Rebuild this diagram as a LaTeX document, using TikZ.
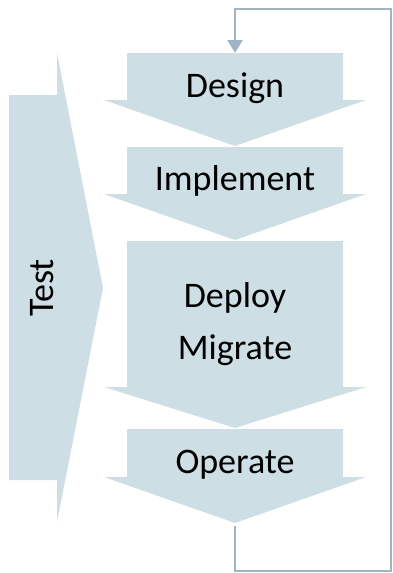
\documentclass[tikz,border=0pt]{standalone}
\usepackage{fontspec}
\setmainfont{Carlito}
\usepackage{tikz}
\usetikzlibrary{calc,arrows.meta}

\definecolor{stagefill}{RGB}{205,222,229}
\definecolor{loopline}{RGB}{160,180,196}

\tikzset{
  stagetext/.style={inner sep=0pt, font=\fontsize{36}{43}\selectfont, text=black},
  loopback/.style={draw=loopline, line width=2.6pt, -{Triangle[width=15pt,length=13pt]}}
}

\begin{document}
\begin{tikzpicture}[x=1pt,y=-1pt]
  \useasboundingbox (0,0) rectangle (393,573);

  %% Building the stage arrows (top / start of head / tip)
  \foreach \name/\ya/\yb/\yc in {design/53/100/146,implement/147/194/240,deploy/241/387/428,operate/429/477/523}
  {
    \fill[stagefill] (127,\ya) -- (343,\ya) -- (343,\yb) -- (366,\yb)
      -- (235,\yc) -- (104,\yb) -- (127,\yb) -- cycle;
    \coordinate (top-\name) at (235,\ya);
    \coordinate (tip-\name) at (235,\yc);
  }

  %% Test arrow pointing right
  \fill[stagefill] (9,95) -- (57,95) -- (57,53) -- (103,288) -- (57,522)
    -- (57,480) -- (9,480) -- cycle;

  %% Labels
  \node[stagetext, anchor=base] (design)    at (235,97)  {Design};
  \node[stagetext, anchor=base] (implement) at (235,190) {Implement};
  \node[stagetext, anchor=base] (deploy)    at (235,307) {Deploy};
  \node[stagetext, anchor=base] (migrate)   at (235,359) {Migrate};
  \node[stagetext, anchor=base] (operate)   at (235,473) {Operate};
  \node[stagetext, anchor=base, rotate=90] (test) at (53,288) {Test};

  %% Loop back from operate to design
  \coordinate (loopBR) at (391,571);
  \coordinate (loopTR) at (391,9);
  \draw[loopback, shorten <=3pt] (tip-operate) |- (loopBR) -- (loopTR) -| (top-design);
\end{tikzpicture}
\end{document}
